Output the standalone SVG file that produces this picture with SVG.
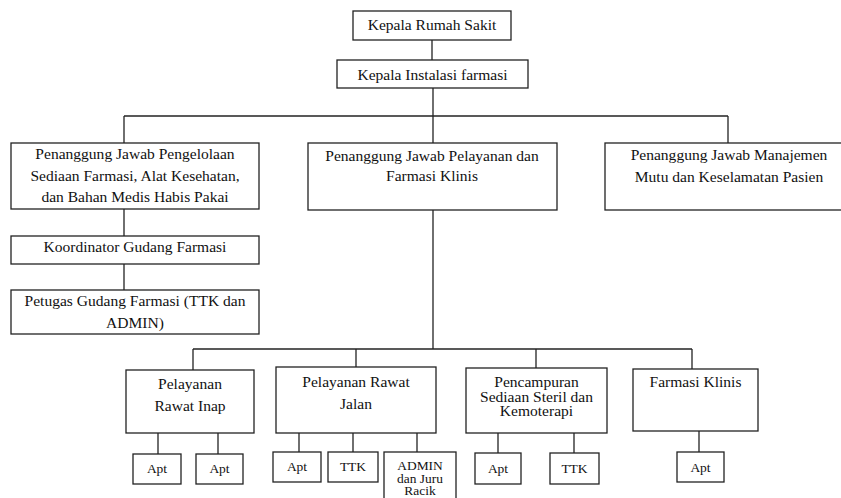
<svg xmlns="http://www.w3.org/2000/svg" width="841" height="498" viewBox="0 0 841 498">
<style>
rect{fill:#fff;stroke:#222;stroke-width:1.3}
#connectors line{stroke:#222;stroke-width:1.3}
text{font-size:14px;fill:#111;text-anchor:middle}
.s{font-size:13.5px}
.a{font-size:12px}
</style>
<rect x="0" y="0" width="841" height="498" style="stroke:none;fill:#fff"/>
<g id="connectors">
<line x1="432" y1="40" x2="432" y2="60"/>
<line x1="433" y1="88" x2="433" y2="116"/>
<line x1="124" y1="116" x2="728" y2="116"/>
<line x1="124" y1="116" x2="124" y2="143"/>
<line x1="433" y1="116" x2="433" y2="143"/>
<line x1="728" y1="116" x2="728" y2="143"/>
<line x1="124" y1="209" x2="124" y2="236"/>
<line x1="124" y1="264" x2="124" y2="290"/>
<line x1="433" y1="210" x2="433" y2="349"/>
<line x1="193" y1="349" x2="692" y2="349"/>
<line x1="193" y1="349" x2="193" y2="370"/>
<line x1="356" y1="349" x2="356" y2="367"/>
<line x1="536" y1="349" x2="536" y2="368"/>
<line x1="692" y1="349" x2="692" y2="369"/>
<line x1="158" y1="433" x2="158" y2="454"/>
<line x1="218" y1="433" x2="218" y2="454"/>
<line x1="299" y1="433" x2="299" y2="452"/>
<line x1="353" y1="433" x2="353" y2="452"/>
<line x1="417" y1="433" x2="417" y2="452"/>
<line x1="498" y1="433" x2="498" y2="453"/>
<line x1="574" y1="433" x2="574" y2="453"/>
<line x1="699" y1="431" x2="699" y2="452"/>
</g>
<g font-family="Liberation Serif, Tinos, Times New Roman, Times, Nimbus Roman, DejaVu Serif, Noto Serif, serif">
<g id="kepala-rs">
<rect x="353" y="11" width="158" height="29"/>
<text transform="translate(432 0) scale(1.11 1)" y="30">Kepala Rumah Sakit</text>
</g>
<g id="kepala-if">
<rect x="337" y="60" width="191" height="28"/>
<text transform="translate(432.5 0) scale(1.11 1)" y="80">Kepala Instalasi farmasi</text>
</g>
<g id="pj-pengelolaan">
<rect x="11" y="143" width="248" height="66"/>
<text transform="translate(135 0) scale(1.11 1)"><tspan x="0" y="159">Penanggung Jawab Pengelolaan</tspan><tspan x="0" y="181">Sediaan Farmasi, Alat Kesehatan,</tspan><tspan x="0" y="202.5">dan Bahan Medis Habis Pakai</tspan></text>
</g>
<g id="koordinator">
<rect x="11" y="236" width="248" height="28"/>
<text transform="translate(135 0) scale(1.11 1)" y="252">Koordinator Gudang Farmasi</text>
</g>
<g id="petugas">
<rect x="11" y="290" width="248" height="44"/>
<text transform="translate(135 0) scale(1.11 1)"><tspan x="0" y="306">Petugas Gudang Farmasi (TTK dan</tspan><tspan x="0" y="328.5">ADMIN)</tspan></text>
</g>
<g id="pj-pelayanan">
<rect x="308" y="143" width="249" height="67"/>
<text transform="translate(432 0) scale(1.11 1)"><tspan x="0" y="161">Penanggung Jawab Pelayanan dan</tspan><tspan x="0" y="181">Farmasi Klinis</tspan></text>
</g>
<g id="pj-mutu">
<rect x="605" y="143" width="250" height="67"/>
<text transform="translate(729 0) scale(1.11 1)"><tspan x="0" y="160">Penanggung Jawab Manajemen</tspan><tspan x="0" y="182">Mutu dan Keselamatan Pasien</tspan></text>
</g>
<g id="rawat-inap">
<rect x="126" y="370" width="128" height="63"/>
<text transform="translate(190 0) scale(1.11 1)"><tspan x="0" y="389">Pelayanan</tspan><tspan x="0" y="411.5">Rawat Inap</tspan></text>
</g>
<g id="rawat-jalan">
<rect x="276" y="367" width="160" height="66"/>
<text transform="translate(356 0) scale(1.11 1)"><tspan x="0" y="387">Pelayanan Rawat</tspan><tspan x="0" y="409">Jalan</tspan></text>
</g>
<g id="pencampuran">
<rect x="466" y="368" width="141" height="65"/>
<text transform="translate(536.5 0) scale(1.11 1)"><tspan x="0" y="387">Pencampuran</tspan><tspan x="0" y="402">Sediaan Steril dan</tspan><tspan x="0" y="416">Kemoterapi</tspan></text>
</g>
<g id="farmasi-klinis">
<rect x="633" y="369" width="125" height="62"/>
<text transform="translate(695.5 0) scale(1.11 1)" y="387">Farmasi Klinis</text>
</g>
<g id="ri-apt1">
<rect x="133" y="454" width="48" height="30"/>
<text class="s" x="157" y="472.5">Apt</text>
</g>
<g id="ri-apt2">
<rect x="196" y="454" width="47" height="30"/>
<text class="s" x="219.5" y="472.5">Apt</text>
</g>
<g id="rj-apt">
<rect x="273" y="452" width="48" height="30"/>
<text class="s" x="297" y="470.5">Apt</text>
</g>
<g id="rj-ttk">
<rect x="328" y="452" width="50" height="30"/>
<text class="s" x="353" y="471">TTK</text>
</g>
<g id="rj-admin">
<rect x="384" y="452" width="72" height="60"/>
<text class="a" transform="translate(420 0) scale(1.12 1)"><tspan x="0" y="470">ADMIN</tspan><tspan x="0" y="483">dan Juru</tspan><tspan x="0" y="495.5">Racik</tspan></text>
</g>
<g id="pc-apt">
<rect x="475" y="453" width="46" height="31"/>
<text class="s" x="498" y="472.5">Apt</text>
</g>
<g id="pc-ttk">
<rect x="550" y="453" width="49" height="31"/>
<text class="s" x="574.5" y="472.5">TTK</text>
</g>
<g id="fk-apt">
<rect x="677" y="452" width="47" height="30"/>
<text class="s" x="700.5" y="471.5">Apt</text>
</g>
</g>
</svg>
